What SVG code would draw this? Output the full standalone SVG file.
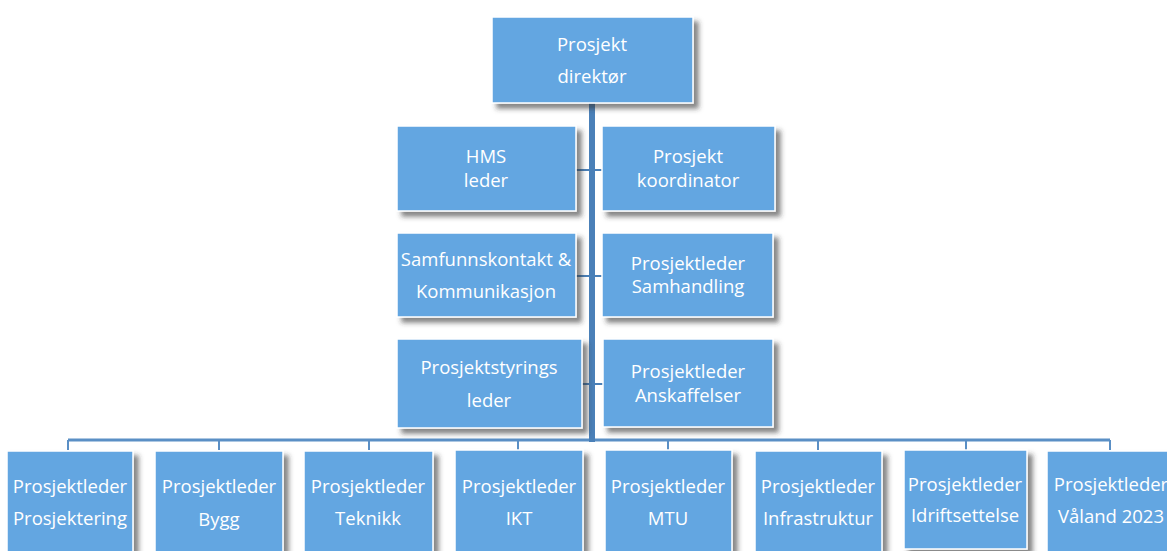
<svg xmlns="http://www.w3.org/2000/svg" width="1167" height="551" viewBox="0 0 1167 551">
<style>
.box{fill:#64a6e1;stroke:#ffffff;stroke-width:1.5;filter:url(#sh)}
.t{font-family:"Open Sans","Noto Sans",sans-serif;font-size:18.5px;fill:#ffffff;text-anchor:middle}
.bus{stroke:#5a8fc5;stroke-width:3;fill:none}
.drop{stroke:#5a8fc5;stroke-width:2;fill:none}
.stub{stroke:#4a80b8;stroke-width:2;fill:none}
</style>
<defs>
<filter id="sh" x="-10%" y="-10%" width="130%" height="130%">
<feDropShadow dx="5" dy="5" stdDeviation="2.5" flood-color="#333333" flood-opacity="0.6"/>
</filter>
</defs>
<rect width="1167" height="551" fill="#ffffff"/>
<g id="connectors">
<line class="bus" x1="68" y1="440" x2="1110" y2="440"/>
<line class="drop" x1="68" y1="440" x2="68" y2="450"/>
<line class="drop" x1="219" y1="440" x2="219" y2="450"/>
<line class="drop" x1="369" y1="440" x2="369" y2="450"/>
<line class="drop" x1="518" y1="440" x2="518" y2="450"/>
<line class="drop" x1="668" y1="440" x2="668" y2="450"/>
<line class="drop" x1="818" y1="440" x2="818" y2="450"/>
<line class="drop" x1="966" y1="440" x2="966" y2="450"/>
<line class="drop" x1="1110" y1="440" x2="1110" y2="450"/>
<line class="stub" x1="576" y1="170" x2="602" y2="170"/>
<line class="stub" x1="576" y1="276" x2="602" y2="276"/>
<line class="stub" x1="582" y1="384" x2="603" y2="384"/>
<rect x="589" y="103" width="6" height="339" fill="#4a80b8"/>
</g>
<g id="n-direktor"><rect class="box" x="492" y="17" width="201" height="86"/><text class="t" x="592" y="51">Prosjekt</text><text class="t" x="592" y="83">direktør</text></g>
<g id="n-hms"><rect class="box" x="397" y="126" width="179" height="85"/><text class="t" x="486" y="163">HMS</text><text class="t" x="486" y="187">leder</text></g>
<g id="n-koordinator"><rect class="box" x="602" y="126" width="173" height="85"/><text class="t" x="688" y="163">Prosjekt</text><text class="t" x="688" y="187">koordinator</text></g>
<g id="n-samfunn"><rect class="box" x="397" y="233" width="179" height="84"/><text class="t" x="486" y="266">Samfunnskontakt &amp;</text><text class="t" x="486" y="298">Kommunikasjon</text></g>
<g id="n-samhandling"><rect class="box" x="602" y="233" width="171" height="84"/><text class="t" x="688" y="270">Prosjektleder</text><text class="t" x="688" y="293">Samhandling</text></g>
<g id="n-styring"><rect class="box" x="397" y="339" width="185" height="89"/><text class="t" x="489" y="374">Prosjektstyrings</text><text class="t" x="489" y="407">leder</text></g>
<g id="n-anskaffelser"><rect class="box" x="603" y="339" width="170" height="88"/><text class="t" x="688" y="378">Prosjektleder</text><text class="t" x="688" y="402">Anskaffelser</text></g>
<g id="n-prosjektering"><rect class="box" x="7" y="451" width="126" height="104"/><text class="t" x="70" y="493">Prosjektleder</text><text class="t" x="70" y="525">Prosjektering</text></g>
<g id="n-bygg"><rect class="box" x="155" y="451" width="128" height="104"/><text class="t" x="219" y="493">Prosjektleder</text><text class="t" x="219" y="526">Bygg</text></g>
<g id="n-teknikk"><rect class="box" x="304" y="451" width="129" height="104"/><text class="t" x="368" y="493">Prosjektleder</text><text class="t" x="368" y="525">Teknikk</text></g>
<g id="n-ikt"><rect class="box" x="455" y="450" width="128" height="105"/><text class="t" x="519" y="493">Prosjektleder</text><text class="t" x="519" y="525">IKT</text></g>
<g id="n-mtu"><rect class="box" x="605" y="450" width="127" height="105"/><text class="t" x="668" y="493">Prosjektleder</text><text class="t" x="668" y="525">MTU</text></g>
<g id="n-infrastruktur"><rect class="box" x="755" y="451" width="127" height="104"/><text class="t" x="818" y="493">Prosjektleder</text><text class="t" x="818" y="525">Infrastruktur</text></g>
<g id="n-idriftsettelse"><rect class="box" x="904" y="450" width="123" height="99"/><text class="t" x="965" y="491">Prosjektleder</text><text class="t" x="965" y="522">Idriftsettelse</text></g>
<g id="n-valand"><rect class="box" x="1047" y="451" width="128" height="104"/><text class="t" x="1111" y="491">Prosjektleder</text><text class="t" x="1111" y="523">Våland 2023</text></g>
</svg>
